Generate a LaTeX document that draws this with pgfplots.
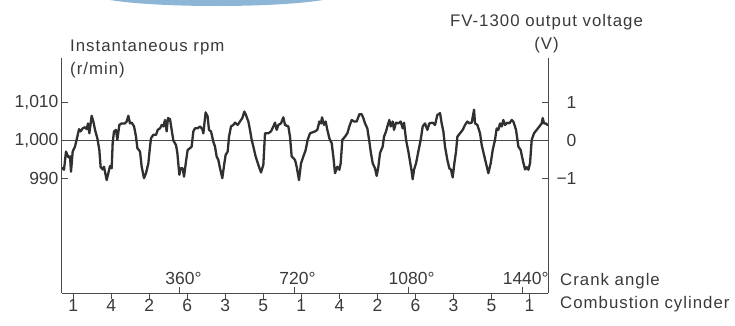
\documentclass[border=0pt]{standalone}
\usepackage{fontspec}
\setmainfont{Liberation Sans}
\newfontfamily\lblfont[LetterSpace=6.0]{Liberation Sans}
\usepackage{pgfplots}
\pgfplotsset{compat=1.18}
\definecolor{txt}{HTML}{3A3A3A}
\definecolor{axc}{HTML}{4A4A4A}
\definecolor{linec}{HTML}{303030}
\definecolor{blob}{HTML}{8DB5D5}
\newcommand\tfs{\fontsize{17.5}{21}\selectfont}
\newcommand\lfs{\lblfont\fontsize{16.8}{20}\selectfont}
\begin{document}
\begin{tikzpicture}
\useasboundingbox (0,0) rectangle (735pt,325pt);
\fill[blob] (216.5pt,331pt) ellipse [x radius=123pt, y radius=12pt];
% main axis: rpm + crank angle
\begin{axis}[
  at={(62pt,32pt)}, anchor=south west,
  scale only axis, width=486pt, height=235pt,
  xmin=-12.3, xmax=1521.3, ymin=960, ymax=1021.8,
  axis x line*=bottom, axis y line*=left,
  axis line style={-, draw=axc, line width=1pt},
  tick align=inside, major tick length=6pt,
  tick style={draw=axc, line width=1pt},
  ytick={990,1000,1010}, yticklabels={990,{1,000},{1,010}},
  xtick={360,720,1080,1440},
  xticklabels={360\rlap{°},720\rlap{°},1080\rlap{°},1440\rlap{°}},
  xticklabel style={anchor=south, yshift=5pt},
  tick label style={font=\tfs, text=txt},
  clip=false,
]
\addplot[draw=axc, line width=1.1pt] coordinates {(-12.3,1000) (1521.3,1000)};
\addplot[draw=linec, line width=2.3pt, line join=round] coordinates {
(-12.3,992.8) (-10.2,992.8) (-6.0,992.4) (0.3,997.2) (7.7,995.7) (13.0,995.9) (16.1,991.9) (21.4,997.2) (28.7,998.5) (36.1,1001.1) (41.4,1003.1) (46.6,1002.5) (52.9,1003.3) (60.3,1003.6) (65.6,1003.1) (69.8,1004.6) (74.0,1002.0) (81.3,1006.6) (86.6,1005.1) (91.9,1002.9) (99.2,1000.7) (105.5,997.6) (109.7,993.1) (116.1,992.5) (120.3,993.2) (128.7,989.7) (133.9,991.5) (139.2,993.4) (144.5,992.8) (147.6,999.4) (151.8,1002.5) (158.1,1002.9) (162.3,1000.3) (168.7,1004.2) (176.0,1004.6) (186.5,1004.6) (191.8,1005.1) (197.1,1006.6) (202.3,1004.6) (207.6,1004.8) (215.1,1003.8) (221.3,1001.1) (225.5,998.1) (233.9,997.2) (239.1,993.2) (246.5,990.2) (252.8,991.5) (260.2,994.1) (265.4,998.5) (268.6,1000.7) (276.0,1001.6) (284.4,1001.6) (289.6,1002.9) (297.0,1003.3) (302.3,1004.2) (307.5,1003.8) (312.8,1005.5) (318.0,1002.5) (322.2,1006.0) (328.6,1005.7) (333.8,1002.9) (339.1,1000.1) (347.5,998.9) (351.7,996.8) (358.0,991.1) (362.2,992.8) (368.5,992.8) (372.7,990.6) (379.0,994.6)
(384.2,997.6) (391.6,998.1) (396.8,998.5) (402.1,1002.5) (407.4,1003.3) (415.8,1003.3) (423.1,1003.8) (430.5,1003.1) (433.7,1002.0) (441.0,1007.5) (447.3,1006.4) (451.5,1002.9) (457.9,1002.5) (465.2,999.8) (470.5,998.5) (475.7,995.9) (481.0,995.0) (486.3,992.8) (493.6,990.2) (500.0,994.1) (504.1,996.3) (510.5,997.2) (514.7,1001.1) (521.0,1003.8) (528.3,1004.2) (533.6,1004.8) (542.0,1004.2) (549.4,1005.1) (556.7,1006.0) (563.1,1007.7) (568.3,1006.8) (575.7,1005.1) (580.9,1002.9) (586.2,1000.3) (591.5,998.5) (598.8,995.9) (607.2,993.7) (615.7,991.7) (623.0,993.7) (628.3,1002.0) (638.8,1002.0) (647.2,1002.5) (654.6,1003.8) (659.8,1004.8) (665.1,1002.9) (670.4,1004.2) (678.8,1004.6) (686.1,1006.2) (691.4,1004.2) (701.9,1003.8) (707.2,1001.1) (712.4,995.9) (723.0,995.0) (728.2,993.2) (735.6,989.7) (741.9,994.1) (749.3,995.9) (756.6,997.6) (762.9,1000.3) (770.3,1002.0)
(786.1,1002.5) (793.4,1002.9) (799.8,1005.1) (805.0,1004.6) (808.2,1006.2) (814.5,1004.2) (819.7,1005.1) (825.0,1002.9) (831.3,1000.7) (838.7,999.4) (843.9,995.9) (849.2,991.5) (856.6,993.2) (862.9,992.4) (867.1,994.1) (872.3,1000.3) (880.8,1001.1) (888.1,1002.0) (894.4,1003.8) (901.8,1005.5) (909.2,1005.1) (917.6,1005.1) (926.0,1007.0) (933.4,1007.0) (938.6,1006.0) (943.9,1004.6) (951.2,1003.3) (957.6,999.8) (961.8,997.2) (968.1,994.1) (975.4,992.8) (980.7,990.8) (986.0,993.2) (991.2,996.8) (999.6,998.5) (1003.8,1001.1) (1010.2,1002.5) (1014.4,1003.8) (1020.7,1005.5) (1024.9,1003.8) (1031.2,1005.1) (1035.4,1002.9) (1041.7,1004.8) (1049.1,1004.6) (1056.4,1005.1) (1062.8,1003.3) (1067.0,1004.8) (1073.3,1000.3) (1080.6,997.2) (1085.9,994.6) (1091.2,991.9) (1094.3,989.9) (1098.5,992.4) (1104.8,994.1) (1112.2,997.2) (1119.6,1000.3) (1125.9,1003.8) (1133.2,1004.6) (1140.6,1002.9) (1146.9,1004.6)
(1157.4,1004.8) (1164.8,1004.2) (1172.1,1006.8) (1180.6,1007.3) (1185.8,1004.6) (1191.1,1002.5) (1196.3,998.5) (1203.7,995.0) (1210.0,992.8) (1215.3,992.4) (1220.5,990.4) (1225.8,994.1) (1231.1,997.2) (1235.3,1001.1) (1243.7,1002.0) (1252.1,1002.9) (1259.5,1004.2) (1266.8,1005.1) (1273.1,1004.6) (1280.5,1004.8) (1287.9,1008.2) (1291.0,1004.6) (1298.4,1004.2) (1306.8,1002.0) (1312.1,998.9) (1319.4,996.3) (1325.7,994.1) (1333.1,991.5) (1340.5,994.1) (1346.8,997.6) (1354.1,1000.3) (1359.4,1003.3) (1364.7,1002.9) (1369.9,1004.6) (1375.2,1003.8) (1380.4,1005.5) (1385.7,1004.2) (1393.1,1004.8) (1399.4,1004.6) (1406.7,1005.5) (1412.0,1005.1) (1420.4,1002.9) (1427.8,998.5) (1435.1,997.6) (1441.5,995.0) (1448.8,992.5) (1454.1,993.1) (1459.3,992.4) (1464.6,994.1) (1469.9,1000.3) (1477.2,1002.0) (1485.6,1002.9) (1494.1,1003.8) (1501.4,1004.6) (1504.6,1006.0) (1508.8,1004.6) (1515.1,1004.6) (1519.3,1004.2) (1521.3,1004.4)
};
\end{axis}
% right axis: voltage
\begin{axis}[
  at={(62pt,32pt)}, anchor=south west,
  scale only axis, width=486pt, height=235pt,
  xmin=-12.3, xmax=1521.3, ymin=-4.0, ymax=2.18,
  axis y line*=right, hide x axis,
  axis line style={-, draw=axc, line width=1pt},
  tick align=inside, major tick length=6pt,
  tick style={draw=axc, line width=1pt},
  ytick={-1,0,1}, yticklabels={−1,0,1},
  yticklabel style={anchor=east, xshift=32pt},
  tick label style={font=\tfs, text=txt},
]
\addplot[draw=none] coordinates {(0,0)};
\end{axis}
% combustion cylinder ticks
\begin{axis}[
  at={(62pt,32pt)}, anchor=south west,
  scale only axis, width=486pt, height=235pt,
  xmin=-12.3, xmax=1521.3, ymin=0, ymax=1,
  axis x line*=bottom, hide y axis,
  axis line style={-, draw=axc, line width=1pt},
  tick align=outside, major tick length=6pt,
  tick style={draw=axc, line width=1pt},
  xtick={23,143,263,383,503,623,743,863,983,1103,1223,1343,1463},
  xticklabels={1,4,2,6,3,5,1,4,2,6,3,5,1},
  xticklabel style={yshift=3.5pt},
  tick label style={font=\tfs, text=txt},
]
\addplot[draw=none] coordinates {(0,0)};
\end{axis}
\node[anchor=base west, text=txt, font=\lfs, inner sep=0pt] at (70pt,274pt) {Instantaneous rpm};
\node[anchor=base west, text=txt, font=\lfs, inner sep=0pt] at (70pt,250.5pt) {(r/min)};
\node[anchor=base, text=txt, font=\lfs, inner sep=0pt] at (546.5pt,299pt) {FV-1300 output voltage};
\node[anchor=base, text=txt, font=\lfs, inner sep=0pt] at (546.5pt,276pt) {(V)};
\node[anchor=base west, text=txt, font=\lfs, inner sep=0pt] at (560pt,40pt) {Crank angle};
\node[anchor=base west, text=txt, font=\lfs, inner sep=0pt] at (560pt,17pt) {Combustion cylinder};
\end{tikzpicture}
\end{document}
